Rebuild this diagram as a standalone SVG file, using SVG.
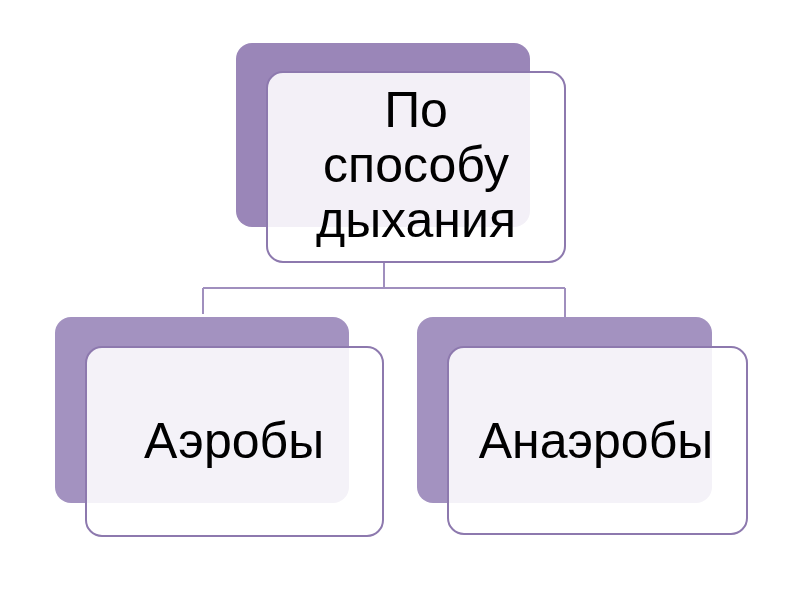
<svg xmlns="http://www.w3.org/2000/svg" width="800" height="600" viewBox="0 0 800 600">
<style>
.back{fill:#a392c0}
.backtop{fill:#9a86b8}
.front{fill:#ffffff;fill-opacity:0.88;stroke:#8d79ae;stroke-width:2}
.lbl{font-family:"Liberation Sans",Arial,sans-serif;font-size:50px;fill:#000;text-anchor:middle}
.conn{fill:none;stroke:#a08fbe;stroke-width:2}
</style>
<rect width="800" height="600" fill="#ffffff"/>
<g id="connectors">
<path class="conn" d="M384,262 V288 M203,288 H565 M203,288 V314 M565,288 V318"/>
</g>
<g id="node-root">
<rect class="backtop" x="236" y="43" width="294" height="184" rx="16"/>
<rect class="front" x="267" y="72" width="298" height="190" rx="16"/>
<text class="lbl" x="416" y="127">По</text>
<text class="lbl" x="416" y="182">способу</text>
<text class="lbl" x="416" y="237">дыхания</text>
</g>
<g id="node-aerobes">
<rect class="back" x="55" y="317" width="294" height="186" rx="16"/>
<rect class="front" x="86" y="347" width="297" height="189" rx="16"/>
<text class="lbl" x="234" y="458">Аэробы</text>
</g>
<g id="node-anaerobes">
<rect class="back" x="417" y="317" width="295" height="186" rx="16"/>
<rect class="front" x="448" y="347" width="299" height="187" rx="16"/>
<text class="lbl" x="596" y="458">Анаэробы</text>
</g>
</svg>
